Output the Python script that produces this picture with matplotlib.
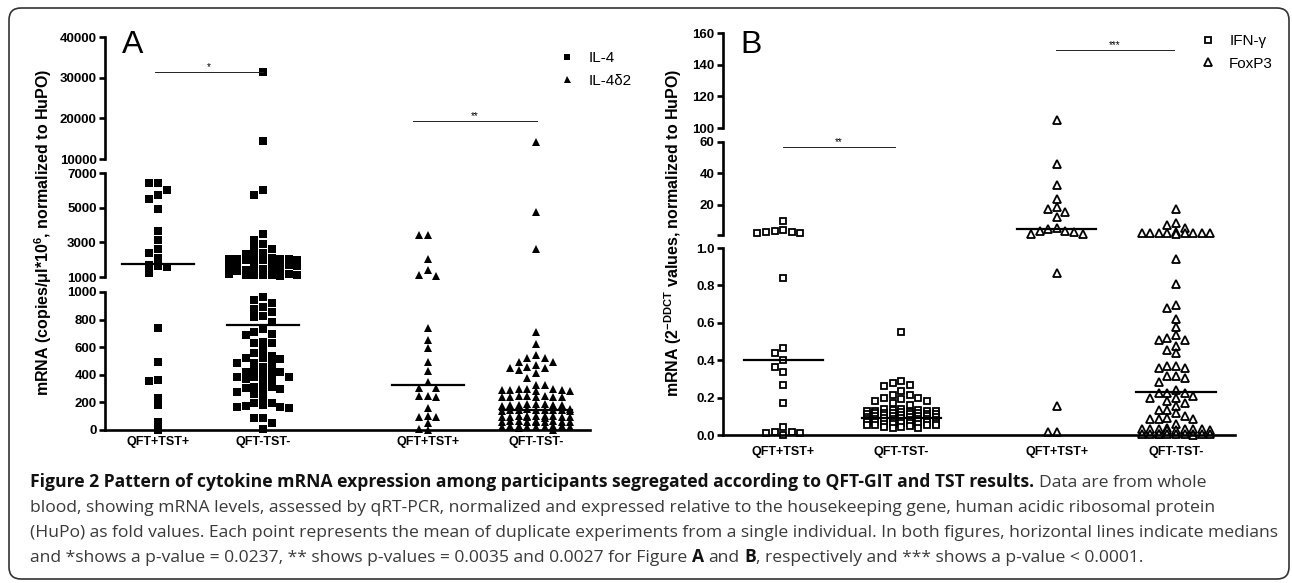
import matplotlib
matplotlib.use('Agg')
import matplotlib.pyplot as plt
from matplotlib.patches import FancyBboxPatch
from matplotlib.transforms import IdentityTransform
import numpy as np

W, H = 1292, 583
plt.rcParams['font.family'] = ['Liberation Sans', 'DejaVu Sans']
plt.rcParams['mathtext.fontset'] = 'custom'
plt.rcParams['mathtext.rm'] = 'Liberation Sans'
plt.rcParams['mathtext.bf'] = 'Liberation Sans:bold'

# ---------------- data ----------------
group_labels = ['QFT+TST+', 'QFT-TST-', 'QFT+TST+', 'QFT-TST-']

# panel A: mRNA copies/ul*10^6
il4_qft_pos = [6400, 6400, 6000, 5730, 5500, 4900, 3650, 3130, 2600, 2400, 2100,
               1700, 1650, 1550, 1250, 740, 493, 362, 355, 232, 181, 58, 0]
il4_qft_neg = [31400, 14400, 6000, 5730, 3500, 3130, 2900, 2700, 2600, 2380, 2330, 2270,
               2080, 2050, 2020, 2000, 1990, 1970, 1950, 2010, 2040,
               1720, 1700, 1690, 1680, 1660, 1650,
               1480, 1450, 1420, 1400, 1380, 1350,
               1160, 1150, 1130, 1120, 1110, 1100, 1090, 1080,
               966, 942, 923, 892, 877, 858, 826, 819, 785, 732, 713, 696, 689,
               640, 630, 630, 580, 558, 536, 522, 522, 515, 488, 478, 486, 457, 435,
               423, 423, 423, 399, 386, 384, 384, 370, 370, 341, 314, 312, 304, 297,
               290, 278, 261, 232, 198, 196, 181, 174, 169, 167, 160, 87, 87, 51, 5]
il4d2_qft_pos = [3400, 3400, 2020, 1400, 1115, 1060, 737, 652, 592, 491, 430, 350,
                 302, 302, 249, 242, 249, 157, 96, 96, 104, 53, 0, 7]
il4d2_qft_neg = [14200, 4770, 2600, 713, 623, 544, 520, 520, 495, 471, 452, 435, 452,
                 459, 495, 411, 375, 326, 326,
                 295, 292, 285, 290, 298, 285, 288, 296,
                 245, 242, 236, 240, 244, 236, 238, 247,
                 185, 183, 178, 181, 190, 186, 176, 181,
                 150, 147, 142, 145, 152, 140, 148, 143, 146, 138,
                 100, 98, 94, 97, 92, 104, 96, 90, 102, 95, 99,
                 64, 62, 58, 60, 66, 55, 63, 57, 61, 59,
                 28, 25, 22, 26, 20, 30, 24, 18, 27, 23, 3]
medians_a = [1750, 761, 326, 145]

# panel B: 2^-DDCT fold values
ifng_qft_pos = [9.7, 3.9, 3.3, 2.9, 2.5, 2.2, 1.8, 0.84, 0.467, 0.437, 0.40, 0.365,
                0.339, 0.267, 0.169, 0.041, 0.018, 0.018, 0.009, 0.009, 0.0]
ifng_qft_neg = [0.55, 0.29, 0.28, 0.267, 0.262, 0.237, 0.214, 0.214, 0.20, 0.20, 0.19,
                0.183, 0.18, 0.17, 0.16,
                0.135, 0.13, 0.128, 0.14, 0.132, 0.126, 0.137, 0.13, 0.124,
                0.117, 0.113, 0.12, 0.11, 0.115, 0.122, 0.111, 0.118, 0.114,
                0.102, 0.098, 0.105, 0.095, 0.10, 0.107, 0.097, 0.103, 0.099,
                0.087, 0.083, 0.09, 0.08, 0.085, 0.092, 0.081, 0.088, 0.084,
                0.072, 0.068, 0.075, 0.065, 0.07, 0.077, 0.066, 0.073, 0.069,
                0.057, 0.053, 0.06, 0.05, 0.055, 0.062, 0.051, 0.058, 0.054,
                0.042, 0.038, 0.045, 0.04]
foxp3_qft_pos = [105, 46, 32.5, 24, 18.4, 17.3, 15.2, 12, 5.0, 4.4, 3.5, 3.5, 2.9,
                 1.3, 1.2, 0.865, 0.157, 0.014, 0.014]
foxp3_qft_neg = [17, 8.2, 7.1, 5.0, 2.4, 2.1, 2.0, 1.9, 1.8, 2.2, 2.0, 1.9, 2.1, 1.7,
                 0.94, 0.81, 0.695, 0.68, 0.62, 0.576, 0.535, 0.517, 0.508, 0.508,
                 0.476, 0.455, 0.437, 0.37, 0.37, 0.36, 0.36, 0.317, 0.317, 0.306,
                 0.285, 0.24, 0.226, 0.226, 0.226, 0.209, 0.2, 0.196, 0.183, 0.17,
                 0.155, 0.134, 0.134, 0.116, 0.10, 0.089, 0.084, 0.084, 0.084, 0.059,
                 0.032, 0.028, 0.035, 0.03, 0.026, 0.033, 0.029, 0.031, 0.027, 0.034, 0.03,
                 0.006, 0.004, 0.008, 0.005, 0.003, 0.007, 0.005, 0.006, 0.004, 0.002, 0.005]
medians_b = [0.40, 0.089, 4.6, 0.232]

# broken y axes: (low, high, top px, bottom px, ticks, labels)
segs_a = [(0, 1000, 292, 430, [0, 200, 400, 600, 800, 1000], None),
          (1000, 7000, 173, 277, [1000, 3000, 5000, 7000], None),
          (10000, 40000, 37, 159, [10000, 20000, 30000, 40000], None)]
segs_b = [(0, 1.0, 248, 435, [0, 0.2, 0.4, 0.6, 0.8, 1.0],
           ['0.0', '0.2', '0.4', '0.6', '0.8', '1.0']),
          (1, 60, 142, 234.6, [1, 20, 40, 60], ['', '20', '40', '60']),
          (100, 160, 33, 128, [100, 120, 140, 160], None)]

pos_a = [1, 2, 3.57, 4.6]
pos_b = [1, 2, 3.32, 4.33]

fig = plt.figure(figsize=(W / 100, H / 100), dpi=100)


def build_panel(x0, x1, xlim, segs):
    axes = []
    for i, (lo, hi, ytop, ybot, ticks, labels) in enumerate(segs):
        ax = fig.add_axes([x0 / W, 1 - ybot / H, (x1 - x0) / W, (ybot - ytop) / H])
        ax.set_facecolor('none')
        ax.spines['top'].set_visible(False)
        ax.spines['right'].set_visible(False)
        ax.spines['left'].set_linewidth(1.9)
        ax.spines['bottom'].set_linewidth(1.9)
        ax.set_xlim(*xlim)
        ax.set_ylim(lo, hi)
        if labels is None:
            labels = [str(t) for t in ticks]
        ax.set_yticks(ticks, labels, fontsize=9.5, fontweight='bold')
        ax.tick_params(axis='y', length=4, width=1.9, pad=2)
        if i > 0:
            ax.spines['bottom'].set_visible(False)
            ax.set_xticks([])
        axes.append(ax)
    return axes


def seg_of(v, segs):
    for i, s in enumerate(segs):
        if v <= s[1]:
            return i
    return len(segs) - 1


def swarm_x(values, xc, axes, segs, d=8.6, dy_min=7.0, kmax=4):
    ppu = axes[0].transData.transform((1, 0))[0] - axes[0].transData.transform((0, 0))[0]
    ys = [axes[seg_of(v, segs)].transData.transform((xc, v))[1] for v in values]
    order = np.argsort(values, kind='stable')[::-1]
    cands = [0] + [s * k for k in range(1, kmax + 1) for s in (-1, 1)]
    placed = []
    xs = np.zeros(len(values))
    for idx in order:
        y = ys[idx]
        near = [(px, py) for px, py in placed if abs(py - y) < dy_min]
        choice, best_c, best_score = None, 0, -1
        for c in cands:
            dx = c * d
            if all(abs(dx - px) >= 0.9 * d for px, py in near):
                choice = c
                break
            score = min(np.hypot(dx - px, y - py) for px, py in near)
            if score > best_score:
                best_score, best_c = score, c
        if choice is None:
            choice = best_c
        placed.append((choice * d, y))
        xs[idx] = xc + choice * d / ppu
    return xs


def draw_series(axes, segs, xc, vals, **kw):
    vals = np.asarray(vals, dtype=float)
    xs = swarm_x(vals, xc, axes, segs)
    idx = np.array([seg_of(v, segs) for v in vals])
    handle = None
    for i, ax in enumerate(axes):
        m = idx == i
        line, = ax.plot(xs[m], vals[m], ls='none', clip_on=False, **kw)
        if handle is None:
            handle = line
    return handle


def draw_median(axes, segs, xc, m, hw):
    ax = axes[seg_of(m, segs)]
    ax.plot([xc - hw, xc + hw], [m, m], color='black', lw=1.6, clip_on=False)


def sig_bar(ax, x1, x2, y, label):
    ax.plot([x1, x2], [y, y], color='#222222', lw=0.7, clip_on=False)
    ax.annotate(label, ((x1 + x2) / 2, y), xytext=(0, 0), textcoords='offset points',
                ha='center', va='bottom', fontsize=7, annotation_clip=False)


# ---------------- panel A ----------------
axA = build_panel(105, 590, (0.495, 5.114), segs_a)
sq = dict(marker='s', ms=5.2, color='black', mew=0)
tri = dict(marker='^', ms=5.6, color='black', mew=0)
hA1 = draw_series(axA, segs_a, pos_a[0], il4_qft_pos, **sq)
draw_series(axA, segs_a, pos_a[1], il4_qft_neg, **sq)
hA2 = draw_series(axA, segs_a, pos_a[2], il4d2_qft_pos, **tri)
draw_series(axA, segs_a, pos_a[3], il4d2_qft_neg, **tri)
for xc, m in zip(pos_a, medians_a):
    draw_median(axA, segs_a, xc, m, 0.34)
axA[0].set_xticks(pos_a, group_labels, fontsize=9, fontweight='bold')
axA[0].tick_params(axis='x', length=0, pad=4)
sig_bar(axA[2], 0.97, 2.0, 31400, '*')
sig_bar(axA[2], 3.43, 4.61, 19345, '**')
fig.text(43 / W, 1 - 232 / H, r'mRNA (copies/μl*10$^{\mathbf{6}}$, normalized to HuPO)',
         rotation=90, ha='center', va='center', fontsize=11.5, fontweight='bold')
fig.text(122 / W, 1 - 53 / H, 'A', fontsize=23, va='baseline')
fig.legend([hA1, hA2], ['IL-4', 'IL-4δ2'], loc='upper left',
           bbox_to_anchor=(559.5 / W, 1 - 51 / H), frameon=False, fontsize=11,
           handlelength=1.0, handletextpad=0.88, labelspacing=0.57, borderpad=0,
           borderaxespad=0, markerscale=0.9)

# ---------------- panel B ----------------
axB = build_panel(723, 1235, (0.49, 4.83), segs_b)
osq = dict(marker='s', ms=4.6, mfc='white', mec='black', mew=1.3)
otri = dict(marker='^', ms=5.4, mfc='white', mec='black', mew=1.3)
hB1 = draw_series(axB, segs_b, pos_b[0], ifng_qft_pos, **osq)
draw_series(axB, segs_b, pos_b[1], ifng_qft_neg, **osq)
hB2 = draw_series(axB, segs_b, pos_b[2], foxp3_qft_pos, **otri)
draw_series(axB, segs_b, pos_b[3], foxp3_qft_neg, **otri)
for xc, m in zip(pos_b, medians_b):
    draw_median(axB, segs_b, xc, m, 0.335)
axB[0].set_xticks(pos_b, group_labels, fontsize=9, fontweight='bold')
axB[0].tick_params(axis='x', length=0, pad=8)
sig_bar(axB[1], 1.0, 1.95, 56.6, '**')
sig_bar(axB[2], 3.31, 4.31, 149.3, '***')
fig.text(673 / W, 1 - 233 / H, r'mRNA (2$^{\mathbf{-DDCT}}$ values, normalized to HuPO)',
         rotation=90, ha='center', va='center', fontsize=11.5, fontweight='bold')
fig.text(740 / W, 1 - 53 / H, 'B', fontsize=23, va='baseline')
fig.legend([hB1, hB2], ['IFN-γ', 'FoxP3'], loc='upper left',
           bbox_to_anchor=(1200.5 / W, 1 - 34 / H), frameon=False, fontsize=11,
           handlelength=1.0, handletextpad=0.88, labelspacing=0.57, borderpad=0,
           borderaxespad=0, markerscale=1.0)

# ---------------- caption ----------------
cap_font = ['Open Sans', 'Noto Sans', 'DejaVu Sans']
caption_lines = [
    [('Figure 2 Pattern of cytokine mRNA expression among participants segregated '
      'according to QFT-GIT and TST results. ', 'bold'), ('Data are from whole', 'normal')],
    [('blood, showing mRNA levels, assessed by qRT-PCR, normalized and expressed relative '
      'to the housekeeping gene, human acidic ribosomal protein', 'normal')],
    [('(HuPo) as fold values. Each point represents the mean of duplicate experiments from '
      'a single individual. In both figures, horizontal lines indicate medians', 'normal')],
    [('and *shows a p-value = 0.0237, ** shows p-values = 0.0035 and 0.0027 for Figure ', 'normal'),
     ('A ', 'bold'), ('and ', 'normal'), ('B', 'bold'),
     (', respectively and *** shows a p-value < 0.0001.', 'normal')],
]
renderer = fig.canvas.get_renderer()


def text_width(s, size, weight):
    t = fig.text(0, 0, '|' + s + '|', fontsize=size, fontweight=weight, family=cap_font)
    w = t.get_window_extent(renderer).width
    t.remove()
    t = fig.text(0, 0, '||', fontsize=size, fontweight=weight, family=cap_font)
    w -= t.get_window_extent(renderer).width
    t.remove()
    return w


ref_w = sum(text_width(s, 10, wt) for s, wt in caption_lines[2])
cap_size = 10 * (1275 - 30) / ref_w
for i, runs in enumerate(caption_lines):
    x = 30
    y = 487 + 25 * i
    for s, wt in runs:
        fig.text(x / W, 1 - y / H, s.rstrip(), fontsize=cap_size, fontweight=wt,
                 family=cap_font, va='baseline',
                 color='#111111' if wt == 'bold' else '#3a3a3a')
        x += text_width(s, cap_size, wt)

# rounded frame around the whole figure
frame = FancyBboxPatch((9, H - 579), 1280, 571, boxstyle='round,pad=0,rounding_size=12',
                       transform=IdentityTransform(), fill=False, ec='#333333', lw=1.2)
fig.patches.append(frame)

fig.savefig('out.png', dpi=100)
